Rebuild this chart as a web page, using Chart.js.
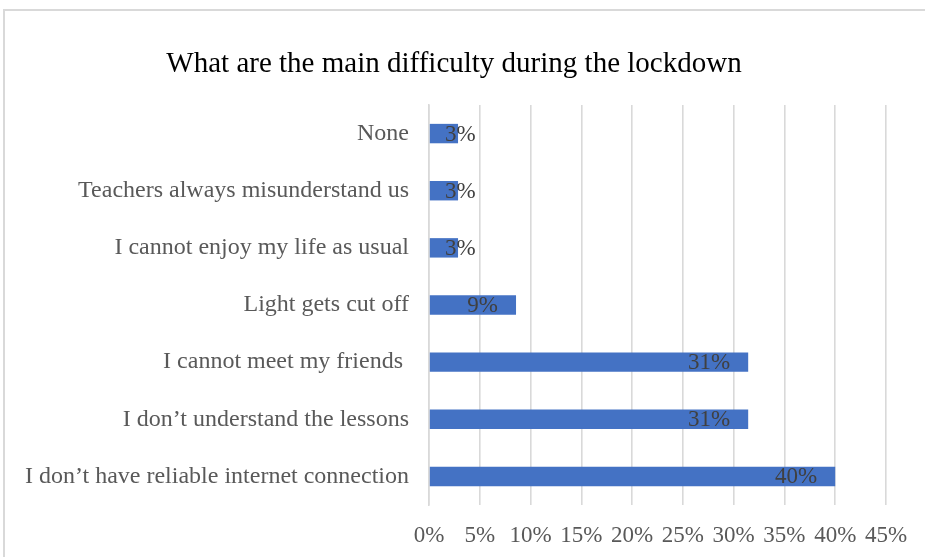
<!DOCTYPE html>
<html>
<head>
<meta charset="utf-8">
<script src="https://cdn.jsdelivr.net/npm/chart.js@4"></script>
<style>
  body { margin: 0; background: #ffffff; }
  #wrap { position: relative; width: 925px; height: 557px; overflow: hidden; }
  #frame { position: absolute; left: 3px; top: 9px; width: 940px; height: 570px; border: 2px solid #d9d9d9; box-sizing: border-box; }
  #chart { position: absolute; left: 0; top: 0; }
</style>
</head>
<body>
<div id="wrap">
  <div id="frame"></div>
  <canvas id="chart" width="925" height="557"></canvas>
</div>
<script>
// respostas (perguntas com varias escolhas, 35 alunos)
var categorias = [
  'None',
  'Teachers always misunderstand us',
  'I cannot enjoy my life as usual',
  'Light gets cut off',
  'I cannot meet my friends ',
  'I don\u2019t understand the lessons',
  'I don\u2019t have reliable internet connection'
];
var percentuais = [2.86, 2.86, 2.86, 8.57, 31.43, 31.43, 40.0];
var ticksX = [0, 5, 10, 15, 20, 25, 30, 35, 40, 45];

var fonte = 'Liberation Serif, Times New Roman, serif';

// escreve o valor dentro da ponta de cada barra
var rotulosBarras = {
  id: 'rotulosBarras',
  afterDatasetsDraw: function (chart) {
    var ctx = chart.ctx;
    var meta = chart.getDatasetMeta(0);
    var base = chart.scales.x.getPixelForValue(0);
    ctx.save();
    ctx.font = '23px ' + fonte;
    ctx.fillStyle = '#404040';
    ctx.textBaseline = 'middle';
    ctx.textAlign = 'left';
    meta.data.forEach(function (bar, i) {
      var txt = Math.round(percentuais[i]) + '%';
      var w = ctx.measureText(txt).width;
      var x = Math.max(bar.x - 18 - w, base + 16);
      ctx.fillText(txt, x, bar.y + 1);
    });
    ctx.restore();
  }
};

var ctx = document.getElementById('chart').getContext('2d');
var chart = new Chart(ctx, {
  type: 'bar',
  data: {
    labels: categorias,
    datasets: [{
      data: percentuais,
      backgroundColor: '#4472C4',
      borderWidth: 0,
      barPercentage: 0.34,
      categoryPercentage: 1
    }]
  },
  options: {
    indexAxis: 'y',
    responsive: false,
    animation: false,
    layout: { padding: { left: 22, right: 39, top: 0, bottom: 7 } },
    plugins: {
      legend: { display: false },
      tooltip: { enabled: false },
      title: {
        display: true,
        text: 'What are the main difficulty during the lockdown',
        color: '#000000',
        font: { family: fonte, size: 29, weight: 'normal' },
        padding: { top: 46.6, bottom: 23.6 }
      }
    },
    scales: {
      x: {
        min: 0,
        max: 45,
        afterBuildTicks: function (scale) {
          scale.ticks = ticksX.map(function (v) { return { value: v }; });
        },
        afterFit: function (scale) { scale.height = 45; },
        grid: { color: '#d9d9d9', lineWidth: 1.6, drawTicks: false },
        border: { display: false },
        ticks: {
          padding: 17,
          color: '#595959',
          font: { family: fonte, size: 23 },
          maxRotation: 0,
          callback: function (v) { return v + '%'; }
        }
      },
      y: {
        afterFit: function (scale) { scale.width = 407; },
        grid: { display: false, drawTicks: false },
        border: { display: true, color: '#d9d9d9', width: 1.6 },
        ticks: {
          padding: 20,
          color: '#595959',
          font: { family: fonte, size: 24 }
        }
      }
    }
  },
  plugins: [rotulosBarras]
});
</script>
</body>
</html>
